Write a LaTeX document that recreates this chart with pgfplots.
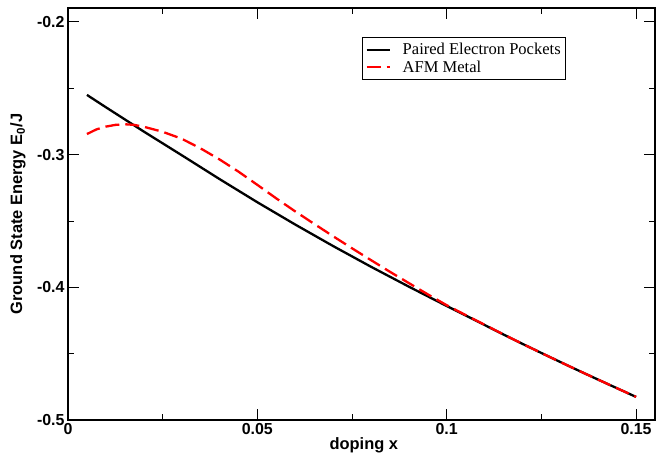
\documentclass[border=0pt]{standalone}
\usepackage{fontspec}
\setmainfont{Liberation Sans}
\newfontfamily\timesfont{Liberation Serif}
\usepackage{pgfplots}
\pgfplotsset{compat=1.18}
\definecolor{gred}{HTML}{FF0000}

\begin{document}
\begin{tikzpicture}
\begin{axis}[
  at={(0,0)}, anchor=south west,
  scale only axis, width=587bp, height=412bp,
  xmin=0, xmax=0.155, ymin=-0.5, ymax=-0.1895,
  xtick={0,0.05,0.1,0.15}, xticklabels={0,0.05,0.1,0.15},
  ytick={-0.5,-0.4,-0.3,-0.2}, yticklabels={-0.5,-0.4,-0.3,-0.2},
  minor x tick num=1, minor y tick num=1,
  tick align=inside,
  major tick length=11bp, minor tick length=6bp,
  every tick/.style={black, line width=0.9bp},
  axis line style={line width=1.4bp},
  tick label style={font=\bfseries\fontsize{16}{18}\selectfont},
  xlabel={doping x},
  ylabel={Ground State Energy E\textsubscript{0}/J},
  every axis x label/.style={at={(axis description cs:0.504,-0.0607)}, anchor=center,
    font=\bfseries\fontsize{16.5}{18}\selectfont},
  every axis y label/.style={at={(axis description cs:-0.0852,0.5)}, anchor=center, rotate=90,
    font=\bfseries\fontsize{16.5}{18}\selectfont},
  legend style={at={(axis description cs:0.5009,0.9296)}, anchor=north west,
    font=\timesfont\fontsize{16.6}{18}\selectfont, draw=black, line width=0.8bp,
    inner xsep=3bp, inner ysep=4bp, row sep=0.5bp,
    cells={anchor=west},
    /tikz/every odd column/.append style={column sep=10bp}},
  legend image code/.code={\draw[#1] (0bp,0bp) -- (23bp,0bp);},
]
\addplot[black, line width=2.3bp] coordinates {
(0.005,-0.2550) (0.010,-0.2643) (0.020,-0.2826) (0.030,-0.3004)
(0.040,-0.3184) (0.050,-0.3359) (0.060,-0.3527) (0.070,-0.3689)
(0.080,-0.3845) (0.090,-0.3995) (0.100,-0.4141) (0.105,-0.4212)
(0.110,-0.4284) (0.115,-0.4356) (0.120,-0.4426) (0.125,-0.4495)
(0.130,-0.4563) (0.135,-0.4630) (0.140,-0.4696) (0.145,-0.4761)
(0.150,-0.4826)
};
\addlegendentry{Paired Electron Pockets}
\addplot[gred, line width=2.3bp, dash pattern=on 14bp off 6bp] coordinates {
(0.005,-0.2845) (0.0075,-0.2810) (0.010,-0.2789) (0.0125,-0.2776)
(0.015,-0.2771) (0.0175,-0.2776) (0.020,-0.2790) (0.025,-0.2828)
(0.030,-0.2880) (0.035,-0.2953) (0.040,-0.3036) (0.045,-0.3128)
(0.050,-0.3228) (0.055,-0.3330) (0.060,-0.3428) (0.065,-0.3522)
(0.070,-0.3615) (0.075,-0.3706) (0.080,-0.3795) (0.085,-0.3883)
(0.090,-0.3968) (0.095,-0.4053) (0.100,-0.4135) (0.105,-0.4209)
(0.110,-0.4282) (0.115,-0.4355) (0.120,-0.4426) (0.125,-0.4495)
(0.130,-0.4563) (0.135,-0.4630) (0.140,-0.4696) (0.145,-0.4761)
(0.150,-0.4826)
};
\addlegendentry{AFM Metal}
\end{axis}
\path[use as bounding box] (-68bp,-40bp) rectangle (588bp,420bp);
\end{tikzpicture}
\end{document}
